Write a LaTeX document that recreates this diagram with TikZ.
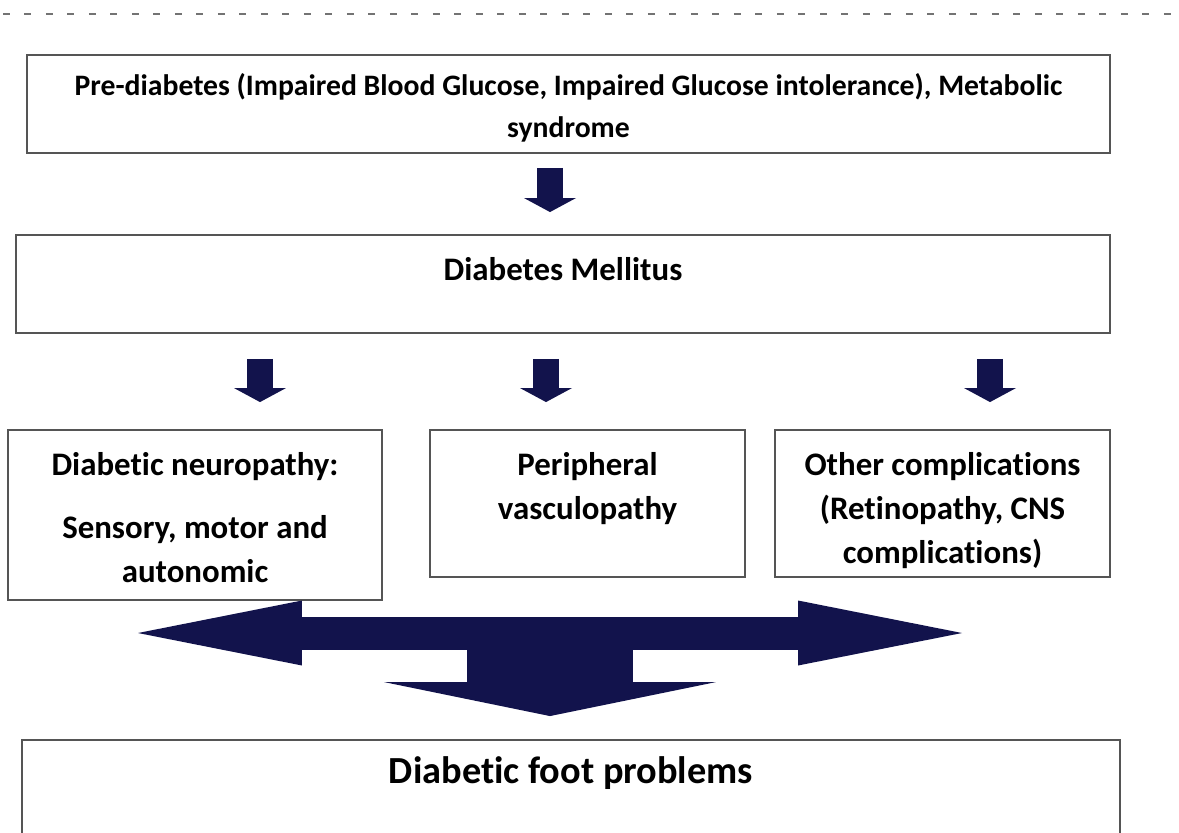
\documentclass[tikz,border=0pt]{standalone}
\usepackage{fontspec}
\setmainfont[Ligatures=NoCommon]{Carlito}
\usetikzlibrary{arrows.meta}
\definecolor{navy}{RGB}{18,19,76}
\definecolor{boxline}{RGB}{85,85,85}

\begin{document}
\begin{tikzpicture}[x=0.02cm, y=-0.02cm,
    box/.style={draw=boxline, line width=1.1pt, inner sep=0pt, font=\fontsize{18.7}{25}\selectfont\bfseries},
    smallarr/.style={navy, line width=0.52cm, -{Triangle[length=0.28cm, width=1.04cm, line width=0pt]}},
    bigarr/.style={navy, line width=0.66cm, {Triangle[length=3.28cm, width=1.3cm, line width=0pt]}-{Triangle[length=3.28cm, width=1.3cm, line width=0pt]}},
    downarr/.style={navy, line width=3.34cm, -{Triangle[length=0.68cm, width=6.64cm, line width=0pt]}}]
    \clip (0,0) rectangle (1179,832);

    % dashed rule at the top
    \draw[gray!90!black, line width=0.05cm, dash pattern=on 0.14cm off 0.29cm] (3,14) -- (1179,14);

    % boxes
    \node[box, font=\fontsize{16.9}{24}\selectfont\bfseries] (pre) at (568.5,104)
        {\parbox[c][1.96cm][t]{21.66cm}{\centering\rule{0pt}{23pt}Pre-diabetes (Impaired Blood Glucose, Impaired Glucose intolerance), Metabolic\\ syndrome}};
    \node[box] (dm) at (563,284)
        {\parbox[c][1.96cm][t]{21.88cm}{\centering\rule{0pt}{26pt}Diabetes Mellitus}};
    \node[box] (neuro) at (195,515)
        {\parbox[c][3.4cm][t]{7.48cm}{\centering\rule{0pt}{26pt}Diabetic neuropathy:\\[11pt] Sensory, motor and\\ autonomic}};
    \node[box] (vasc) at (587.5,503.5)
        {\parbox[c][2.94cm][t]{6.3cm}{\centering\rule{0pt}{26pt}Peripheral\\ vasculopathy}};
    \node[box] (other) at (942.5,503.5)
        {\parbox[c][2.94cm][t]{6.7cm}{\centering\rule{0pt}{26pt}Other complications\\ (Retinopathy, CNS\\ complications)}};
    \node[box, font=\fontsize{21.8}{25}\selectfont\bfseries] (foot) at (571,815)
        {\parbox[c][3cm][t]{21.96cm}{\centering\rule{0pt}{25pt}Diabetic foot problems}};

    % small arrows
    \coordinate (xa) at (550,0);
    \coordinate (xn) at (260,0);
    \coordinate (xv) at (546,0);
    \coordinate (xo) at (990,0);
    \draw[smallarr, shorten <=0.28cm, shorten >=0.44cm] (pre.south -| xa) -- (dm.north -| xa);
    \draw[smallarr, shorten <=0.5cm, shorten >=0.54cm] (dm.south -| xn) -- (neuro.north -| xn);
    \draw[smallarr, shorten <=0.5cm, shorten >=0.54cm] (dm.south -| xv) -- (vasc.north -| xv);
    \draw[smallarr, shorten <=0.5cm, shorten >=0.54cm] (dm.south -| xo) -- (other.north -| xo);

    % big arrows
    \coordinate (bl) at (138,633);
    \coordinate (br) at (962,633);
    \draw[downarr, shorten <=1.12cm, shorten >=0.46cm] (vasc.south -| xa) -- (foot.north -| xa);
    \draw[bigarr] (bl) -- (br);
\end{tikzpicture}
\end{document}
